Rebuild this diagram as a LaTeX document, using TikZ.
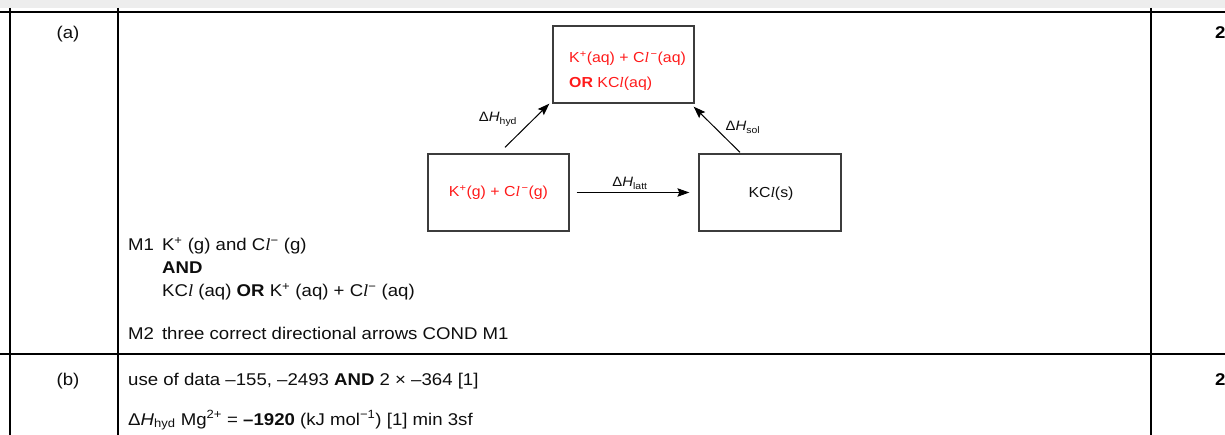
\documentclass[tikz,border=0pt]{standalone}
\usepackage{fontspec}
\setmainfont{Liberation Sans}[FakeStretch=1.095]
\newfontfamily\serffont{Liberation Serif}[FakeStretch=1.095]
\usetikzlibrary{arrows.meta}
\definecolor{boxline}{HTML}{3C3C3C}
\definecolor{txt}{HTML}{0E0E0E}
\definecolor{band}{HTML}{EDEDED}
\definecolor{ans}{HTML}{FF1A1A}
\newcommand{\itl}{{\serffont\itshape l}}
\newcommand{\dH}[1]{Δ\textit{H}\textsubscript{#1}}
\begin{document}
\begin{tikzpicture}[x=1pt,y=-1pt,
  tline/.style={line width=1.2pt,black},
  rbox/.style={draw=boxline,line width=1.3pt,minimum width=141pt,minimum height=77pt,inner sep=0pt},
  arr/.style={line width=1pt,-{Stealth[length=12pt,width=8.5pt,inset=2pt]}},
  main/.style={anchor=base west,inner sep=0pt,font=\fontsize{17}{20}\selectfont,text=txt},
  small/.style={anchor=base,inner sep=0pt,font=\fontsize{13.6}{15}\selectfont,text=txt},
  boxtxt/.style={inner sep=0pt,font=\fontsize{14.5}{17}\selectfont}]
\useasboundingbox (0,0) rectangle (1225,435);
\fill[band] (0,0) rectangle (1225,8);
% table lines
\draw[tline] (0,12) -- (1225,12);
\draw[tline] (0,354) -- (1225,354);
\draw[tline] (10,8) -- (10,435);
\draw[tline] (118,8) -- (118,435);
\draw[tline] (1151,8) -- (1151,435);
% row labels
\node[anchor=base,inner sep=0pt,font=\fontsize{17}{20}\selectfont,text=txt] (pa) at (68,39) {(a)};
\node[anchor=base,inner sep=0pt,font=\fontsize{17}{20}\selectfont,text=txt] (pb) at (68,385) {(b)};
\node[anchor=base west,inner sep=0pt,font=\fontsize{17}{20}\selectfont\bfseries] (ma) at (1215,39) {2};
\node[anchor=base west,inner sep=0pt,font=\fontsize{17}{20}\selectfont\bfseries] (mb) at (1215,385) {2};
% boxes
\node[rbox] (tbox) at (623.5,64.5) {};
\node[rbox] (lbox) at (498.5,192.5) {};
\node[rbox,minimum width=142pt] (rbx) at (770,192.5) {};
\node[boxtxt,anchor=base west,text=ans] (t1) at (569,63) {K\textsuperscript{+}(aq) + C\itl\textsuperscript{\,−}(aq)};
\node[boxtxt,anchor=base west,text=ans] (t2) at (569,88) {\textbf{OR} KC\itl(aq)};
\node[boxtxt,anchor=base,text=ans] (l1) at (498.5,197) {K\textsuperscript{+}(g) + C\itl\textsuperscript{\,−}(g)};
\node[boxtxt,anchor=base,text=txt] (r1) at (771,198) {KC\itl(s)};
% arrows
\draw[arr] ([xshift=6.5pt,yshift=6pt]lbox.north) -- ([xshift=-3pt]tbox.south west);
\draw[arr] ([xshift=-30pt,yshift=1pt]rbx.north) -- ([xshift=-1pt,yshift=-3pt]tbox.south east);
\draw[arr] ([xshift=7pt]lbox.east) -- ([xshift=-9pt]rbx.west);
\node[small] (hyd) at (498,122) {\dH{hyd}};
\node[small] (sol) at (743,131) {\dH{sol}};
\node[small] (latt) at (630,187) {\dH{latt}};
% mark scheme text
\node[main] (m1) at (128,251) {M1\hspace{8pt}K\textsuperscript{+} (g) and C\itl\textsuperscript{−} (g)};
\node[main] (and) at (162,274) {\textbf{AND}};
\node[main] (m1c) at (162,297) {KC\itl\ (aq) \textbf{OR} K\textsuperscript{+} (aq) + C\itl\textsuperscript{−} (aq)};
\node[main] (m2) at (128,339) {M2\hspace{8pt}three correct directional arrows COND M1};
\node[main] (b1) at (128,385) {use of data –155, –2493 \textbf{AND} 2 × –364 [1]};
\node[main] (b2) at (128,425) {\dH{hyd} Mg\textsuperscript{2+} = \textbf{–1920} (kJ mol\textsuperscript{−1}) [1] min 3sf};
\end{tikzpicture}
\end{document}
